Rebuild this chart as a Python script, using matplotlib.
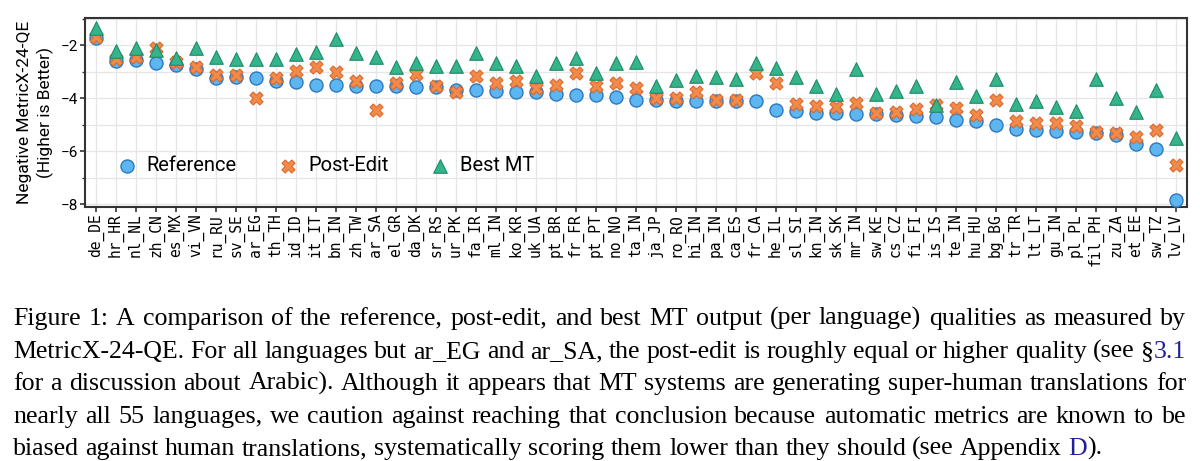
import numpy as np
import matplotlib
matplotlib.use("Agg")
import matplotlib.pyplot as plt
from matplotlib.ticker import MultipleLocator

langs = ["de_DE", "hr_HR", "nl_NL", "zh_CN", "es_MX", "vi_VN", "ru_RU", "sv_SE", "ar_EG", "th_TH",
         "id_ID", "it_IT", "bn_IN", "zh_TW", "ar_SA", "el_GR", "da_DK", "sr_RS", "ur_PK", "fa_IR",
         "ml_IN", "ko_KR", "uk_UA", "pt_BR", "fr_FR", "pt_PT", "no_NO", "ta_IN", "ja_JP", "ro_RO",
         "hi_IN", "pa_IN", "ca_ES", "fr_CA", "he_IL", "sl_SI", "kn_IN", "sk_SK", "mr_IN", "sw_KE",
         "cs_CZ", "fi_FI", "is_IS", "te_IN", "hu_HU", "bg_BG", "tr_TR", "lt_LT", "gu_IN", "pl_PL",
         "fil_PH", "zu_ZA", "et_EE", "sw_TZ", "lv_LV"]

reference = [-1.75, -2.59, -2.57, -2.66, -2.77, -2.92, -3.24, -3.22, -3.26, -3.35,
             -3.38, -3.50, -3.50, -3.55, -3.55, -3.55, -3.60, -3.60, -3.70, -3.70,
             -3.73, -3.78, -3.78, -3.83, -3.88, -3.88, -3.96, -4.06, -4.08, -4.11,
             -4.13, -4.11, -4.11, -4.12, -4.44, -4.49, -4.55, -4.56, -4.59, -4.59,
             -4.65, -4.68, -4.71, -4.84, -4.87, -5.03, -5.16, -5.22, -5.24, -5.28,
             -5.31, -5.38, -5.75, -5.91, -7.83]

post_edit = [-1.71, -2.54, -2.47, -2.13, -2.63, -2.82, -3.14, -3.14, -3.98, -3.26,
             -2.97, -2.82, -3.00, -3.36, -4.46, -3.44, -3.10, -3.55, -3.77, -3.17,
             -3.43, -3.35, -3.64, -3.51, -3.07, -3.55, -3.45, -3.64, -3.98, -3.98,
             -3.77, -4.08, -4.06, -3.07, -3.45, -4.21, -4.31, -4.34, -4.18, -4.55,
             -4.52, -4.40, -4.25, -4.37, -4.65, -4.08, -4.87, -4.94, -4.94, -5.05,
             -5.28, -5.31, -5.47, -5.19, -6.51]

best_mt = [-1.37, -2.21, -2.13, -2.19, -2.50, -2.13, -2.44, -2.52, -2.52, -2.52,
           -2.35, -2.28, -1.79, -2.29, -2.44, -2.82, -2.67, -2.80, -2.80, -2.29,
           -2.69, -2.80, -3.17, -2.69, -2.50, -3.05, -2.67, -2.63, -3.53, -3.33,
           -3.17, -3.22, -3.30, -2.67, -2.88, -3.22, -3.53, -3.83, -2.90, -3.83,
           -3.73, -3.53, -4.25, -3.40, -3.93, -3.27, -4.21, -4.12, -4.34, -4.49,
           -3.30, -3.98, -4.54, -3.70, -5.51]

# caption lines; link pieces are coloured blue
BLK = "black"
LNK = "#1f1f9c"
caption = [
    "Figure 1:  A comparison of the reference, post-edit, and best MT output (per language) qualities as measured by",
    "MetricX-24-QE. For all languages but ar_EG and ar_SA, the post-edit is roughly equal or higher quality (see §3.1",
    "for a discussion about Arabic).  Although it appears that MT systems are generating super-human translations for",
    "nearly all 55 languages, we caution against reaching that conclusion because automatic metrics are known to be",
    "biased against human translations, systematically scoring them lower than they should (see Appendix D).",
]
links = {"§3.1": [("§", BLK), ("3.1", LNK)], "D).": [("D", LNK), (").", BLK)]}

fig = plt.figure(figsize=(12, 4.61), dpi=100)
ax = fig.add_axes([85 / 1200, 1 - 206.7 / 461, (1187 - 85) / 1200, (206.7 - 18) / 461])

x = np.arange(len(langs))
ax.scatter(x, reference, s=88, marker="o", color="#5cb6f2", edgecolors="#2f78bd",
           linewidths=1.0, label="Reference", zorder=3)
ax.scatter(x, post_edit, s=88, marker="X", color="#f28a4a", edgecolors="#d9692e",
           linewidths=0.8, label="Post-Edit", zorder=4)
ax.scatter(x, best_mt, s=95, marker="^", color="#35b48c", edgecolors="#1f8a68",
           linewidths=0.8, label="Best MT", zorder=5)

ax.set_xlim(-0.55, len(langs) - 0.45)
ax.set_ylim(-8.1, -0.98)
ax.set_xticks(x)
ax.set_xticklabels(langs, rotation=90, family="DejaVu Sans Mono", fontsize=10.5)
ax.yaxis.set_major_locator(MultipleLocator(2))
ax.yaxis.set_minor_locator(MultipleLocator(1))
ax.tick_params(axis="y", labelsize=11, length=3.5, width=1.2, pad=1.5, color="#333333")
ax.tick_params(axis="y", which="minor", length=2, width=1.0, color="#333333")
ax.tick_params(axis="x", length=3.5, width=1.2, pad=1.5, color="#333333")
for lab in ax.get_yticklabels():
    lab.set_family("Roboto")
ax.grid(True, which="both", color="#e6e6e6", linewidth=0.9, zorder=0)
ax.set_axisbelow(True)
for sp in ax.spines.values():
    sp.set_color("#333333")
    sp.set_linewidth(1.5)

ax.set_ylabel("Negative MetricX-24-QE\n(Higher is Better)", family="Roboto", fontsize=12.5,
              linespacing=1.3, labelpad=5)

ax.legend(loc="center left", bbox_to_anchor=(0.0287, 0.216), ncol=3, frameon=False,
          prop={"family": "Roboto", "size": 14.5}, handlelength=1.0, handletextpad=0.5,
          columnspacing=2.05, borderpad=0, borderaxespad=0, scatterpoints=1)

# justified caption below the plot
fig.canvas.draw()
r = fig.canvas.get_renderer()


def width(s, fs):
    t = fig.text(0, 0, s, family="Liberation Serif", fontsize=fs)
    w = t.get_window_extent(r).width
    t.remove()
    return w


fs = 17.0
fs = fs * (1102 - 13) / width(caption[-1], fs)
space = width("x x", fs) - width("xx", fs)
baselines = [325, 358, 390, 423, 455]
left, right = 13, 1186

for k, line in enumerate(caption):
    words = line.split()
    pieces = [links.get(w, [(w, BLK)]) for w in words]
    widths = [[width(p[0], fs) for p in wp] for wp in pieces]
    total = sum(sum(ws) for ws in widths)
    if k < len(caption) - 1:
        gap = (right - left - total) / (len(words) - 1)
    else:
        gap = space
    xpos = left
    for wp, ws in zip(pieces, widths):
        for (txt, col), w in zip(wp, ws):
            fig.text(xpos / 1200, 1 - baselines[k] / 461, txt, family="Liberation Serif",
                     fontsize=fs, color=col, va="baseline", ha="left")
            xpos += w
        xpos += gap

fig.savefig("out.png", dpi=100)
